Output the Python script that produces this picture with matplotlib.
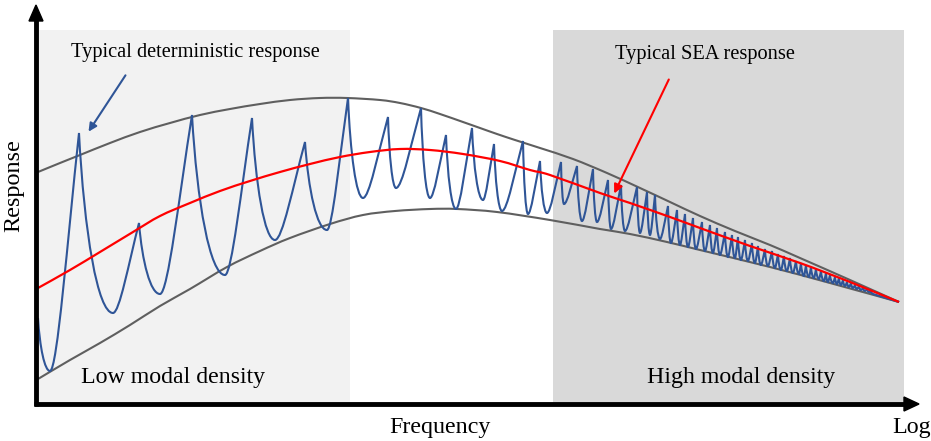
import numpy as np
import matplotlib
matplotlib.use('Agg')
import matplotlib.pyplot as plt
from matplotlib.path import Path
from matplotlib.patches import PathPatch, Rectangle, FancyArrowPatch, Polygon

# all coordinates are in picture pixels (x right, y down)
upper_x = [38, 60, 80, 110, 140, 170, 200, 230, 260, 290, 320, 347, 380, 400, 421, 440, 463, 480, 497, 515,
           540, 573, 607, 640, 670, 700, 735, 770, 800, 850, 899]
upper_y = [172, 163, 155, 143, 132, 123, 115, 109, 104, 100, 98, 98, 100, 103, 108, 114, 122, 128, 134, 140,
           148, 159, 173, 188, 202, 216, 231, 245, 258, 280, 302]

lower_x = [38, 70, 100, 130, 160, 190, 227, 260, 290, 330, 363, 395, 430, 457, 497, 550, 600, 630, 667,
           700, 770, 830, 899]
lower_y = [379, 360, 343, 325, 306, 289, 267, 251, 238, 224, 215, 211, 209, 209, 212, 220, 229, 234, 242,
           250, 267, 283, 302]

mean_x = [38, 70, 100, 133, 160, 190, 220, 250, 280, 310, 340, 370, 400, 430, 463, 500, 530, 550, 600, 630,
          670, 700, 750, 800, 850, 899]
mean_y = [288, 270, 252, 232, 216, 203, 191, 181, 172, 164, 157, 152, 149, 150, 154, 161, 170, 175, 193, 203,
          217, 228, 246, 263, 282, 302]

# deterministic response: alternating troughs / peaks
resp_x = [38, 50, 79, 113, 139, 160, 192, 225, 252, 275, 305, 327, 348, 363, 388, 396, 421, 430, 446, 456,
          472, 483, 494, 502, 523, 528, 540, 547, 561, 564, 577, 582, 593, 597, 608, 611, 621, 625, 637, 640,
          647, 650, 655, 660,
          668, 671, 677, 680, 685, 688, 693, 696, 702, 705, 710, 713, 717, 720, 725, 728, 732, 735, 738, 741,
          745, 748, 752, 755, 758, 761, 765, 768, 772, 775, 778, 781, 784, 787, 790, 793, 796, 799, 801, 804,
          806, 809, 811, 814, 816, 819, 821, 824, 826, 828, 830, 833, 835, 837, 839, 841, 843, 845, 847, 849,
          851, 853, 855, 857, 859, 861, 863, 865, 867, 869, 871, 873]
resp_y = [318, 371, 133, 313, 223, 294, 115, 275, 118, 240, 142, 230, 98, 198, 117, 188, 108, 198, 135, 209,
          128, 200, 144, 211, 141, 214, 161, 213, 162, 204, 166, 221, 169, 222, 180, 229, 185, 231, 187, 233,
          192, 235, 195, 239,
          206, 243, 210, 245, 214, 247, 218, 249, 222, 251, 225, 253, 228, 255, 232, 257, 235, 258, 237, 260,
          240, 261, 243, 263, 246, 265, 249, 266, 251, 268, 254, 270, 256, 271, 258, 273, 261, 274, 263, 276,
          265, 277, 267, 278, 269, 279, 271, 281, 273, 282, 275, 283, 277, 284, 278, 285, 280, 286, 282, 287,
          283, 288, 285, 289, 286, 290, 288, 291, 289, 292, 291, 294]

BLUE = '#2F5597'
RED = '#FF0000'
ENV = '#5f5f5f'


def smooth_path(xs, ys):
    # catmull-rom through the given points, drawn as cubic beziers
    p = list(zip(xs, ys))
    verts = [p[0]]
    codes = [Path.MOVETO]
    for i in range(len(p) - 1):
        a = p[max(i-1, 0)]
        b = p[i]
        c = p[i+1]
        d = p[min(i+2, len(p)-1)]
        c1 = (b[0] + (c[0]-a[0])/6, b[1] + (c[1]-a[1])/6)
        c2 = (c[0] - (d[0]-b[0])/6, c[1] - (d[1]-b[1])/6)
        verts += [c1, c2, c]
        codes += [Path.CURVE4] * 3
    return Path(verts, codes)


fig = plt.figure(figsize=(9.31, 4.41), dpi=100)
ax = fig.add_axes([0, 0, 1, 1])
ax.set_xlim(0, 931)
ax.set_ylim(441, 0)
ax.axis('off')

# shaded regions
ax.add_patch(Rectangle((39, 30), 311, 372, color='#F2F2F2', lw=0, zorder=0))
ax.add_patch(Rectangle((553, 30), 351, 372, color='#D9D9D9', lw=0, zorder=0))

ax.add_patch(PathPatch(smooth_path(upper_x, upper_y), fc='none', ec=ENV, lw=1.5, zorder=2))
ax.add_patch(PathPatch(smooth_path(lower_x, lower_y), fc='none', ec=ENV, lw=1.5, zorder=2))

# response curve: sharp peaks, rounded troughs
verts = [(resp_x[0], resp_y[0])]
codes = [Path.MOVETO]
for i in range(1, len(resp_x)):
    x0, y0 = resp_x[i-1], resp_y[i-1]
    x1, y1 = resp_x[i], resp_y[i]
    dx, dy = x1 - x0, y1 - y0
    if dy > 0:  # falling to a trough
        c1 = (x0 + 0.15*dx, y0 + 0.55*dy)
        c2 = (x1 - 0.45*dx, y1)
    else:  # rising to a peak
        c1 = (x0 + 0.25*dx, y0)
        c2 = (x0 + 0.6*dx, y0 + 0.55*dy)
    verts += [c1, c2, (x1, y1)]
    codes += [Path.CURVE4] * 3
verts.append((mean_x[-1], mean_y[-1]))
codes.append(Path.LINETO)
ax.add_patch(PathPatch(Path(verts, codes), fc='none', ec=BLUE, lw=1.5, zorder=3))

ax.add_patch(PathPatch(smooth_path(mean_x, mean_y), fc='none', ec=RED, lw=1.6, zorder=4))

# axes arrows
ax.plot([36, 36], [406, 20], color='black', lw=3.5, solid_capstyle='butt', zorder=5)
ax.add_patch(Polygon([[29, 21], [43, 21], [36, 5]], closed=True, color='black', zorder=5))
ax.plot([34, 905], [404, 404], color='black', lw=3.5, solid_capstyle='butt', zorder=5)
ax.add_patch(Polygon([[904, 397], [904, 411], [919, 404]], closed=True, color='black', zorder=5))

ax.add_patch(FancyArrowPatch((127, 73), (87, 134), arrowstyle='-|>', mutation_scale=12,
                             color=BLUE, lw=1.5, zorder=6))
ax.add_patch(FancyArrowPatch((670, 77), (613, 196), arrowstyle='-|>', mutation_scale=13,
                             color=RED, lw=1.5, zorder=6))

serif = ['Liberation Serif', 'DejaVu Serif']
ax.text(195, 53, 'Typical deterministic response', family=serif, fontsize=14.7, ha='center', va='center')
ax.text(705, 55, 'Typical SEA response', family=serif, fontsize=14.7, ha='center', va='center')
ax.text(173, 377, 'Low modal density', family=serif, fontsize=17.2, ha='center', va='center')
ax.text(741, 377, 'High modal density', family=serif, fontsize=17.2, ha='center', va='center')
ax.text(14, 186, 'Response', family=serif, fontsize=17.4, ha='center', va='center', rotation=90)
ax.text(440, 428, 'Frequency', family=serif, fontsize=17.3, ha='center', va='center')
ax.text(912, 427, 'Log', family=serif, fontsize=17.3, ha='center', va='center')

fig.savefig('out.png', dpi=100)
